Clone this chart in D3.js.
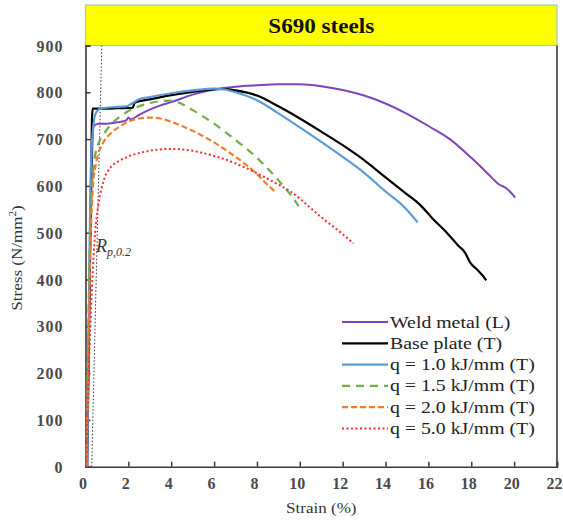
<!DOCTYPE html>
<html><head><meta charset="utf-8">
<script src="https://cdn.jsdelivr.net/npm/d3@7/dist/d3.min.js"></script>
<style>body{margin:0;background:#fff}svg{display:block}svg text{font-family:'Liberation Serif','Tinos','DejaVu Serif',serif !important}</style>
</head><body><svg id="c" width="563" height="522"></svg>
<script>
// ---- data ----
const xTicks = [0,2,4,6,8,10,12,14,16,18,20,22];
const yTicks = [0,100,200,300,400,500,600,700,800,900];
const seriesNames = ["Weld metal (L)","Base plate (T)","q = 1.0 kJ/mm (T)","q = 1.5 kJ/mm (T)","q = 2.0 kJ/mm (T)","q = 5.0 kJ/mm (T)"];
const weldStrain = [0.05,0.2,0.3,0.38,0.6,1.0,1.5,1.9,2.0,2.1,2.5,3,3.5,4,5,6,7,8,9,10,11,12,13,14,15,16,17,18,18.8,19.3,19.6,19.8,20.05];
const weldStress = [0,400,650,728,733,733,736,740,746,742,752,763,772,779,795,806,812,815,817,817,813,805,793,776,754,728,700,660,625,603,596,588,575];
const baseStrain = [0.08,0.2,0.3,0.33,1,1.5,2.2,2.3,3,4,5,6,6.5,7,8,9,10,11,12,13,14,15,15.6,16.2,16.9,17.4,17.7,17.95,18.3,18.5,18.7];
const baseStress = [0,420,740,765,765,766,767,778,785,794,801,806,807,804,793,770,744,716,687,655,618,582,560,530,498,472,458,436,420,410,398];
const q10Strain = [0.08,0.2,0.25,0.35,0.45,0.7,1.2,1.9,2.2,2.5,3,4,5,6,6.5,7,8,9,10,11,12,13,14,14.8,15.5];
const q10Stress = [0,500,640,720,752,765,768,770,777,785,790,798,804,808,806,800,783,755,725,694,662,628,588,558,522];
const q15Strain = [0.05,0.15,0.25,0.4,0.6,0.85,1.2,1.6,2,2.5,3,3.5,4,4.5,5,5.5,6,6.5,7,7.5,8,8.5,9,9.5,9.95];
const q15Stress = [0,350,550,650,690,710,732,748,760,770,777,781,782,775,762,748,733,716,698,680,660,637,612,585,557];
const q20Strain = [0.04,0.15,0.25,0.35,0.5,0.8,1.2,1.6,2,2.5,3,3.5,4,4.5,5,5.5,6,6.5,7,7.5,8,8.5,8.85];
const q20Stress = [0,300,500,600,650,690,713,727,737,744,746,744,737,728,718,706,693,678,662,645,625,602,588];
const q50Strain = [0.03,0.15,0.3,0.45,0.6,0.75,0.9,1.2,1.6,2,2.5,3,3.5,4,4.5,5,5.5,6,6.5,7,7.5,8,8.5,9,9.5,10,10.5,11,11.5,12,12.5];
const q50Stress = [0,200,380,500,560,595,618,641,654,663,670,675,678,679,678,675,670,664,657,648,638,627,615,603,590,573,553,533,515,497,477];
const rpStrain = [0.29,0.76];
const rpStress = [0,900];
const titleText = "S690 steels";

// ---- layout ----
const svg = d3.select("#c");
const L = 85.5, R = 557, T = 45.5, B = 466.7;
const x = d3.scaleLinear().domain([0,22]).range([L,R]);
const y = d3.scaleLinear().domain([0,900]).range([B,T]);

const styles = [
  {color:"#7e44c0", dash:null, w:2},
  {color:"#000000", dash:null, w:2.2},
  {color:"#5b9bd5", dash:null, w:2.2},
  {color:"#70ad47", dash:"8,6", w:2.2},
  {color:"#ed7d31", dash:"6,3", w:2.2},
  {color:"#ff2a2a", dash:"2,2.5", w:2}
];
const series = [
  [weldStrain,weldStress],[baseStrain,baseStress],[q10Strain,q10Stress],
  [q15Strain,q15Stress],[q20Strain,q20Stress],[q50Strain,q50Stress]
];

// title box
svg.append("rect").attr("x",L).attr("y",5).attr("width",R-L).attr("height",T-5)
  .attr("fill","#ffff00").attr("stroke","#8fcfc6").attr("stroke-width",1.2);
svg.append("text").attr("transform",`translate(${(L+R)/2},33) scale(1.1,1)`)
  .attr("text-anchor","middle").attr("font-size",21).attr("font-weight","bold").attr("fill","#111").text(titleText);

// clip
svg.append("clipPath").attr("id","clip").append("rect").attr("x",L).attr("y",T).attr("width",R-L).attr("height",B-T);

// axes
const gx = svg.append("g").attr("transform",`translate(0,${B})`)
  .call(d3.axisBottom(x).tickValues(xTicks).tickSize(-5).tickPadding(10).tickFormat(d3.format("d")));
const gy = svg.append("g").attr("transform",`translate(${L},0)`)
  .call(d3.axisLeft(y).tickValues(yTicks).tickSize(-5).tickPadding(22).tickFormat(d3.format("d")));
[gx,gy].forEach(g=>{
  g.select(".domain").attr("stroke","#3a3a3a").attr("stroke-width",1.6);
  g.selectAll(".tick line").attr("stroke","#3a3a3a").attr("stroke-width",1.5);
  g.selectAll(".tick text").attr("font-size",16).attr("font-weight","bold").attr("fill","#4a4a4a");
});
gx.selectAll(".tick text").attr("dy","0.75em").attr("dx",-3);
gy.selectAll(".tick text").attr("letter-spacing","1px").attr("dy","0.35em");
// right border
svg.append("line").attr("x1",R).attr("x2",R).attr("y1",T).attr("y2",B).attr("stroke","#3a3a3a").attr("stroke-width",1.6);

// Rp line
svg.append("path").attr("clip-path","url(#clip)")
  .attr("d", d3.line().x((d,i)=>x(rpStrain[i])).y(d=>y(d))(rpStress))
  .attr("fill","none").attr("stroke","#333").attr("stroke-width",1).attr("stroke-dasharray","1.5,2");
const rp = svg.append("text").attr("x",96).attr("y",252).attr("font-size",18).attr("font-style","italic").attr("fill","#333");
rp.append("tspan").text("R");
rp.append("tspan").attr("font-size",12).attr("dy",4).text("p,0.2");

// curves
const line = d3.line().curve(d3.curveMonotoneX);
series.forEach((s,i)=>{
  const pts = s[0].map((v,j)=>[x(v), y(s[1][j])]);
  svg.append("path").attr("clip-path","url(#clip)").attr("d",line(pts))
    .attr("fill","none").attr("stroke",styles[i].color).attr("stroke-width",styles[i].w)
    .attr("stroke-dasharray",styles[i].dash).attr("stroke-linejoin","round");
});

// legend
const lg = svg.append("g");
seriesNames.forEach((n,i)=>{
  const yy = 322 + 21.3*i;
  lg.append("line").attr("x1",342).attr("x2",388).attr("y1",yy).attr("y2",yy)
    .attr("stroke",styles[i].color).attr("stroke-width",styles[i].w).attr("stroke-dasharray",styles[i].dash);
  lg.append("text").attr("transform",`translate(390,${yy+5.5}) scale(1.2,1)`).attr("font-size",16.5).attr("fill","#222").text(n);
});

// axis titles
svg.append("text").attr("transform",`translate(${(L+R)/2},513) scale(1.1,1)`).attr("text-anchor","middle")
  .attr("font-size",15.5).attr("fill","#333").text("Strain (%)");
const yl = svg.append("text").attr("transform","translate(22,258) rotate(-90) scale(1.1,1)").attr("text-anchor","middle")
  .attr("font-size",15.5).attr("fill","#333");
yl.append("tspan").text("Stress (N/mm");
yl.append("tspan").attr("font-size",10).attr("dy",-6).text("2");
yl.append("tspan").attr("dy",6).text(")");
</script></body></html>
